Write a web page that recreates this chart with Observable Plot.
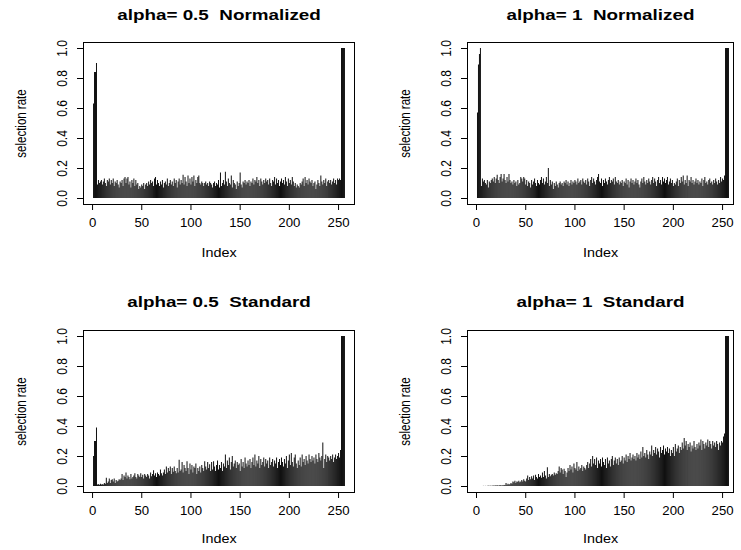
<!DOCTYPE html>
<html><head><meta charset="utf-8">
<script src="https://cdn.jsdelivr.net/npm/d3@7"></script>
<script src="https://cdn.jsdelivr.net/npm/@observablehq/plot@0.6"></script>
<style>
body{margin:0;background:#fff;}
#wrap{position:relative;width:741px;height:550px;overflow:hidden;background:#fff;}
#wrap svg{position:absolute;}
</style></head><body><div id="wrap"></div>
<script>
const titles = ["alpha= 0.5  Normalized", "alpha= 1  Normalized", "alpha= 0.5  Standard", "alpha= 1  Standard"];
const xTicks = [0, 50, 100, 150, 200, 250];
const yTicks = [0, 0.2, 0.4, 0.6, 0.8, 1.0];
const xLabel = "Index";
const yLabel = "selection rate";

const rateA05Norm = [
0.63,0.84,0.84,0.90,0.09,0.12,0.10,0.11,0.12,0.09,0.11,0.13,0.10,0.08,0.12,0.11,
0.13,0.09,0.12,0.10,0.13,0.08,0.11,0.10,0.12,0.09,0.07,0.11,0.10,0.12,0.08,0.13,
0.14,0.10,0.13,0.14,0.09,0.11,0.07,0.12,0.10,0.13,0.08,0.12,0.09,0.10,0.06,0.08,
0.07,0.09,0.08,0.10,0.06,0.09,0.10,0.08,0.11,0.09,0.12,0.10,0.11,0.08,0.13,0.14,
0.09,0.12,0.10,0.08,0.11,0.09,0.12,0.07,0.10,0.11,0.09,0.13,0.08,0.10,0.12,0.09,
0.11,0.08,0.13,0.10,0.12,0.07,0.11,0.13,0.09,0.12,0.10,0.155,0.09,0.14,0.11,0.08,
0.15,0.10,0.13,0.09,0.14,0.11,0.15,0.08,0.12,0.10,0.14,0.15,0.10,0.09,0.11,0.10,
0.08,0.10,0.11,0.09,0.10,0.08,0.11,0.10,0.09,0.07,0.10,0.11,0.08,0.10,0.09,0.12,
0.07,0.17,0.08,0.10,0.12,0.09,0.175,0.11,0.08,0.13,0.10,0.09,0.15,0.07,0.12,0.10,
0.09,0.06,0.11,0.08,0.10,0.17,0.09,0.07,0.11,0.10,0.12,0.09,0.11,0.10,0.12,0.08,
0.11,0.10,0.13,0.09,0.12,0.11,0.14,0.10,0.12,0.08,0.13,0.11,0.09,0.12,0.10,0.13,
0.11,0.12,0.09,0.13,0.10,0.08,0.12,0.11,0.14,0.09,0.13,0.10,0.12,0.08,0.11,0.13,
0.10,0.12,0.09,0.14,0.11,0.08,0.13,0.10,0.12,0.09,0.14,0.11,0.08,0.10,0.07,0.09,
0.08,0.07,0.10,0.09,0.11,0.13,0.08,0.14,0.10,0.12,0.09,0.13,0.11,0.10,0.12,0.08,
0.10,0.11,0.06,0.09,0.12,0.10,0.08,0.15,0.11,0.09,0.12,0.10,0.13,0.08,0.11,0.12,
0.10,0.12,0.09,0.11,0.13,0.10,0.12,0.09,0.13,0.12,0.13,0.12,1,1,1,1];

const rateA1Norm = [
0.57,0.89,0.96,1.00,0.08,0.13,0.11,0.12,0.10,0.09,0.12,0.07,0.11,0.10,0.12,0.13,
0.11,0.14,0.10,0.13,0.155,0.12,0.10,0.14,0.16,0.11,0.13,0.16,0.12,0.10,0.14,0.11,
0.16,0.12,0.10,0.11,0.09,0.12,0.10,0.11,0.08,0.12,0.09,0.10,0.14,0.13,0.11,0.14,
0.13,0.09,0.12,0.08,0.11,0.10,0.07,0.12,0.09,0.11,0.13,0.10,0.08,0.12,0.10,0.09,
0.12,0.14,0.10,0.13,0.09,0.11,0.14,0.10,0.20,0.08,0.12,0.09,0.11,0.06,0.10,0.08,
0.11,0.09,0.07,0.10,0.11,0.09,0.10,0.08,0.11,0.10,0.12,0.09,0.11,0.08,0.10,0.12,
0.09,0.11,0.10,0.12,0.11,0.09,0.13,0.10,0.11,0.12,0.09,0.13,0.11,0.10,0.12,0.09,
0.13,0.11,0.08,0.12,0.14,0.10,0.13,0.11,0.09,0.12,0.14,0.16,0.11,0.10,0.13,0.08,
0.12,0.10,0.13,0.11,0.09,0.12,0.14,0.10,0.12,0.11,0.13,0.09,0.14,0.11,0.10,0.12,
0.09,0.11,0.10,0.12,0.08,0.11,0.10,0.13,0.09,0.12,0.07,0.11,0.13,0.10,0.12,0.09,
0.11,0.13,0.10,0.12,0.09,0.07,0.11,0.13,0.10,0.14,0.11,0.09,0.12,0.10,0.13,0.11,
0.09,0.12,0.14,0.10,0.13,0.11,0.08,0.12,0.14,0.10,0.12,0.09,0.14,0.11,0.13,0.10,
0.12,0.14,0.09,0.11,0.13,0.10,0.12,0.08,0.10,0.09,0.11,0.13,0.08,0.12,0.10,0.14,
0.11,0.15,0.09,0.12,0.10,0.15,0.08,0.12,0.11,0.14,0.10,0.12,0.09,0.11,0.13,0.10,
0.12,0.09,0.11,0.10,0.13,0.08,0.12,0.14,0.10,0.11,0.09,0.12,0.13,0.10,0.11,0.09,
0.12,0.10,0.13,0.11,0.09,0.12,0.10,0.14,0.11,0.13,0.12,0.15,1,1,1,1];

const rateA05Std = [
0.20,0.30,0.30,0.39,0.010,0.012,0.008,0.015,0.010,0.012,0.010,0.020,0.015,0.055,0.020,0.030,
0.050,0.020,0.040,0.045,0.030,0.050,0.020,0.040,0.030,0.035,0.045,0.040,0.050,0.080,0.040,0.070,
0.060,0.090,0.050,0.070,0.060,0.045,0.080,0.050,0.060,0.070,0.085,0.060,0.050,0.080,0.070,0.060,
0.085,0.060,0.075,0.050,0.080,0.070,0.060,0.080,0.070,0.050,0.090,0.065,0.080,0.105,0.070,0.085,
0.060,0.090,0.080,0.070,0.110,0.085,0.070,0.090,0.110,0.080,0.130,0.090,0.120,0.100,0.130,0.080,
0.120,0.095,0.130,0.100,0.085,0.120,0.090,0.175,0.100,0.110,0.160,0.090,0.140,0.120,0.100,0.165,
0.12,0.08,0.15,0.11,0.14,0.09,0.13,0.12,0.15,0.08,0.12,0.10,0.13,0.09,0.14,0.12,
0.10,0.165,0.13,0.11,0.16,0.12,0.145,0.10,0.16,0.11,0.165,0.13,0.10,0.14,0.17,0.11,
0.14,0.12,0.16,0.10,0.15,0.13,0.21,0.12,0.17,0.14,0.19,0.11,0.16,0.20,0.13,0.15,
0.17,0.12,0.16,0.14,0.15,0.10,0.18,0.13,0.16,0.12,0.19,0.15,0.13,0.17,0.14,0.18,
0.12,0.16,0.19,0.14,0.21,0.13,0.17,0.15,0.20,0.12,0.18,0.14,0.16,0.19,0.13,0.18,
0.15,0.17,0.12,0.19,0.14,0.16,0.18,0.13,0.17,0.15,0.19,0.12,0.16,0.18,0.14,0.19,
0.16,0.13,0.18,0.15,0.20,0.12,0.17,0.21,0.14,0.22,0.16,0.13,0.19,0.21,0.15,0.12,
0.17,0.14,0.19,0.13,0.21,0.16,0.18,0.14,0.20,0.17,0.15,0.21,0.18,0.16,0.20,0.17,
0.19,0.15,0.21,0.18,0.16,0.22,0.19,0.17,0.20,0.29,0.12,0.18,0.21,0.16,0.20,0.19,
0.17,0.20,0.18,0.21,0.16,0.19,0.21,0.18,0.20,0.22,0.19,0.24,1,1,1,1];

const rateA1Std = [
0,0,0,0,0,0,0.001,0,0.001,0,0.001,0.002,0.001,0.002,0.001,0.002,
0.003,0.002,0.004,0.003,0.005,0.002,0.004,0.006,0.003,0.005,0.004,0.007,0.006,0.020,0.008,0.015,
0.010,0.012,0.020,0.015,0.030,0.025,0.035,0.020,0.030,0.028,0.035,0.025,0.030,0.040,0.030,0.045,
0.035,0.030,0.050,0.070,0.040,0.060,0.045,0.065,0.050,0.070,0.040,0.075,0.060,0.050,0.080,0.060,
0.070,0.055,0.090,0.060,0.100,0.070,0.050,0.125,0.060,0.080,0.065,0.075,0.080,0.070,0.090,0.075,
0.085,0.080,0.100,0.130,0.090,0.120,0.110,0.080,0.115,0.100,0.060,0.090,0.120,0.100,0.140,0.110,
0.13,0.09,0.15,0.12,0.11,0.16,0.10,0.13,0.11,0.12,0.14,0.10,0.13,0.12,0.11,0.14,
0.16,0.12,0.15,0.18,0.13,0.20,0.15,0.18,0.14,0.19,0.12,0.17,0.15,0.18,0.13,0.19,
0.16,0.14,0.18,0.12,0.19,0.15,0.17,0.13,0.18,0.20,0.14,0.17,0.19,0.15,0.18,0.14,
0.19,0.16,0.17,0.20,0.15,0.19,0.17,0.21,0.16,0.20,0.18,0.22,0.17,0.19,0.21,0.18,
0.20,0.17,0.22,0.19,0.21,0.18,0.23,0.19,0.26,0.20,0.22,0.19,0.24,0.21,0.18,0.23,
0.21,0.27,0.20,0.24,0.22,0.26,0.21,0.25,0.23,0.19,0.26,0.22,0.24,0.27,0.21,0.25,
0.23,0.26,0.22,0.25,0.20,0.24,0.22,0.26,0.20,0.28,0.23,0.25,0.27,0.22,0.26,0.24,
0.29,0.25,0.32,0.27,0.30,0.24,0.28,0.26,0.29,0.23,0.27,0.25,0.30,0.26,0.24,0.28,
0.25,0.29,0.27,0.31,0.24,0.30,0.28,0.25,0.29,0.27,0.31,0.26,0.30,0.28,0.25,0.30,
0.27,0.29,0.26,0.30,0.28,0.24,0.29,0.27,0.30,0.29,0.33,0.35,1,1,1,1];

const series = [rateA05Norm, rateA1Norm, rateA05Std, rateA1Std];

// panel geometry: svg position, plot box inside svg (left, top, right, bottom) and x extent
const panels = [
  {left: 0,   top: 0,   w: 370, h: 275, box: [83, 42, 354, 204], xdom: [-9.2, 266.2], titleDy: 27, idxDy: 48},
  {left: 370, top: 0,   w: 371, h: 275, box: [97, 42, 363, 204], xdom: [-9.15, 261.1], titleDy: 27, idxDy: 48},
  {left: 0,   top: 275, w: 370, h: 275, box: [83, 55, 354, 217], xdom: [-9.2, 266.2], titleDy: 28, idxDy: 46},
  {left: 370, top: 275, w: 371, h: 275, box: [97, 55, 363, 217], xdom: [-9.15, 261.1], titleDy: 28, idxDy: 46}
];

const wrap = document.getElementById("wrap");
panels.forEach((p, k) => {
  const data = series[k].map((v, i) => ({i: i + 1, v}));
  const [bx0, by0, bx1, by1] = p.box;
  const svg = Plot.plot({
    width: p.w, height: p.h,
    marginLeft: bx0, marginTop: by0, marginRight: p.w - bx1, marginBottom: p.h - by1,
    style: {fontFamily: "'Liberation Sans', Arial, Helvetica, sans-serif", fontSize: "12px", background: "transparent", color: "black", overflow: "visible"},
    x: {domain: p.xdom, axis: null},
    y: {domain: [-0.04, 1.04], axis: null},
    marks: [
      Plot.ruleX(data, {x: "i", y1: 0, y2: "v", stroke: "#111", strokeWidth: 1}),
      Plot.frame({stroke: "black", strokeWidth: 1}),
      Plot.axisX(xTicks, {tickSize: 6, tickPadding: 8, label: null, tickFormat: d => String(d), fontSize: 12}),
      Plot.axisY(yTicks, {tickSize: 6, fill: "none", label: null}),
      Plot.text(yTicks, {y: d => d, text: d => d.toFixed(1), frameAnchor: "left", textAnchor: "middle", lineAnchor: "middle", dx: -21, rotate: -90, fontSize: 12}),
      Plot.text([titles[k]], {text: d => d, frameAnchor: "top", textAnchor: "middle", lineAnchor: "middle", dy: -p.titleDy, fontWeight: "bold", fontSize: 14.5}),
      Plot.text([xLabel], {text: d => d, frameAnchor: "bottom", textAnchor: "middle", lineAnchor: "middle", dy: p.idxDy, fontSize: 12.5}),
      Plot.text([yLabel], {text: d => d, frameAnchor: "left", textAnchor: "middle", lineAnchor: "middle", dx: -62, rotate: -90, fontSize: 11.5})
    ]
  });
  svg.style.left = p.left + "px";
  svg.style.top = p.top + "px";
  // the reference raster is wider than tall relative to its font metrics: stretch glyphs horizontally
  svg.querySelectorAll("text").forEach(t => {
    t.style.whiteSpace = "pre";
    const tr = t.getAttribute("transform");
    if (!tr) return;
    const s = t.textContent;
    let extra;
    if (/rotate\(/.test(tr)) extra = " scale(1,1.2)";
    else if (titles.includes(s)) extra = " scale(1.3,1)";
    else if (s === xLabel) extra = " scale(1.15,1)";
    else extra = " scale(1.1,1)";
    t.setAttribute("transform", tr + extra);
  });
  wrap.appendChild(svg);
});
</script>
</body></html>
